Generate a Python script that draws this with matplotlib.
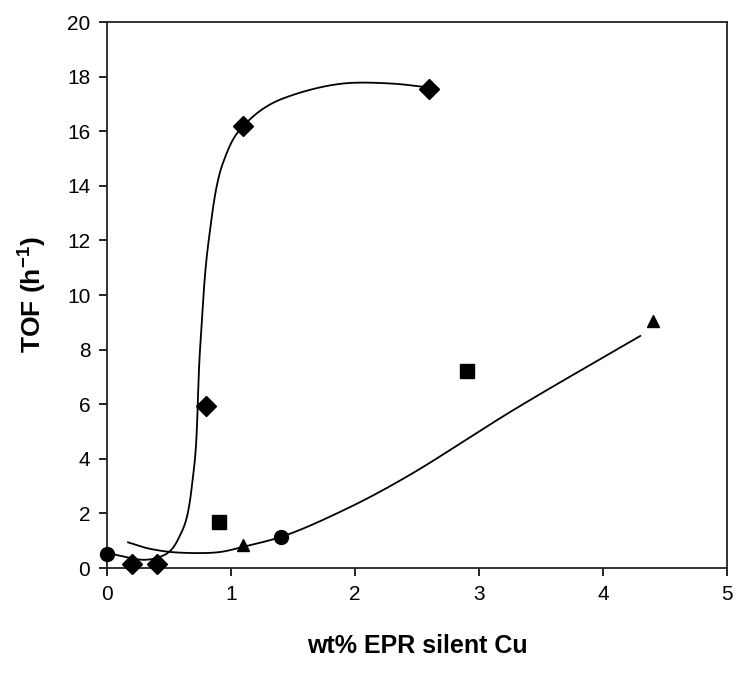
import numpy as np
import matplotlib
matplotlib.use("Agg")
import matplotlib.pyplot as plt

plt.rcParams['font.family'] = ['Liberation Sans', 'DejaVu Sans']
plt.rcParams['mathtext.fontset'] = 'custom'
plt.rcParams['mathtext.rm'] = 'Liberation Sans'
plt.rcParams['mathtext.bf'] = 'Liberation Sans:bold'

# Data points
diamond_x = [0.2, 0.4, 0.8, 1.1, 2.6]
diamond_y = [0.15, 0.15, 5.95, 16.2, 17.55]
circle_x = [0.0, 1.4]
circle_y = [0.52, 1.15]
square_x = [0.9, 2.9]
square_y = [1.7, 7.2]
triangle_x = [1.1, 4.4]
triangle_y = [0.85, 9.05]

# Trend curve knots
curve1_x = [0.0, 0.3, 0.45, 0.6, 0.7, 0.75, 0.82, 0.94, 1.11, 1.42, 1.91, 2.28, 2.6]
curve1_y = [0.55, 0.3, 0.45, 1.3, 3.6, 8.0, 12.0, 14.9, 16.25, 17.2, 17.75, 17.75, 17.6]
curve2_x = [0.17, 0.35, 0.56, 0.88, 1.1, 1.41, 1.9, 2.4, 3.3, 4.3]
curve2_y = [0.94, 0.7, 0.57, 0.57, 0.78, 1.15, 2.1, 3.3, 5.85, 8.5]


def catmull_rom(xs, ys, n=40, alpha=0.5):
    P = np.column_stack([xs, ys]).astype(float)
    P = np.vstack([2 * P[0] - P[1], P, 2 * P[-1] - P[-2]])
    out = []
    for i in range(1, len(P) - 2):
        p0, p1, p2, p3 = P[i - 1], P[i], P[i + 1], P[i + 2]
        t0 = 0.0
        t1 = t0 + np.linalg.norm(p1 - p0) ** alpha + 1e-9
        t2 = t1 + np.linalg.norm(p2 - p1) ** alpha + 1e-9
        t3 = t2 + np.linalg.norm(p3 - p2) ** alpha + 1e-9
        t = np.linspace(t1, t2, n)[:, None]
        A1 = (t1 - t) / (t1 - t0) * p0 + (t - t0) / (t1 - t0) * p1
        A2 = (t2 - t) / (t2 - t1) * p1 + (t - t1) / (t2 - t1) * p2
        A3 = (t3 - t) / (t3 - t2) * p2 + (t - t2) / (t3 - t2) * p3
        B1 = (t2 - t) / (t2 - t0) * A1 + (t - t0) / (t2 - t0) * A2
        B2 = (t3 - t) / (t3 - t1) * A2 + (t - t1) / (t3 - t1) * A3
        C = (t2 - t) / (t2 - t1) * B1 + (t - t1) / (t2 - t1) * B2
        out.append(C)
    C = np.vstack(out)
    return C[:, 0], C[:, 1]


fig = plt.figure(figsize=(7.36, 6.75), dpi=100)
ax = fig.add_axes([0.1454, 0.1585, 0.8424, 0.8089])

cx, cy = catmull_rom(curve1_x, curve1_y)
ax.plot(cx, cy, color='black', lw=1.3, zorder=2)
cx, cy = catmull_rom(curve2_x, curve2_y)
ax.plot(cx, cy, color='black', lw=1.3, zorder=2)

ax.plot(diamond_x, diamond_y, linestyle='none', marker='D', ms=10, color='black', zorder=3, clip_on=False)
ax.plot(circle_x, circle_y, linestyle='none', marker='o', ms=10, color='black', zorder=3, clip_on=False)
ax.plot(square_x, square_y, linestyle='none', marker='s', ms=10, color='black', zorder=3, clip_on=False)
ax.plot(triangle_x, triangle_y, linestyle='none', marker='^', ms=9, color='black', zorder=3, clip_on=False)

ax.set_xlim(0, 5)
ax.set_ylim(0, 20)
ax.set_xticks([0, 1, 2, 3, 4, 5])
ax.set_yticks(list(range(0, 21, 2)))
ax.tick_params(direction='out', length=6, width=1.2, labelsize=15, pad=6, colors='black')
for s in ax.spines.values():
    s.set_linewidth(1.3)
    s.set_color('#222222')

ax.set_xlabel('wt% EPR silent Cu', fontsize=18, fontweight='bold', labelpad=22)
ax.set_ylabel(r'TOF (h$^{\mathbf{-1}}$)', fontsize=19, fontweight='bold', labelpad=14)

fig.savefig('out.png', dpi=100)
